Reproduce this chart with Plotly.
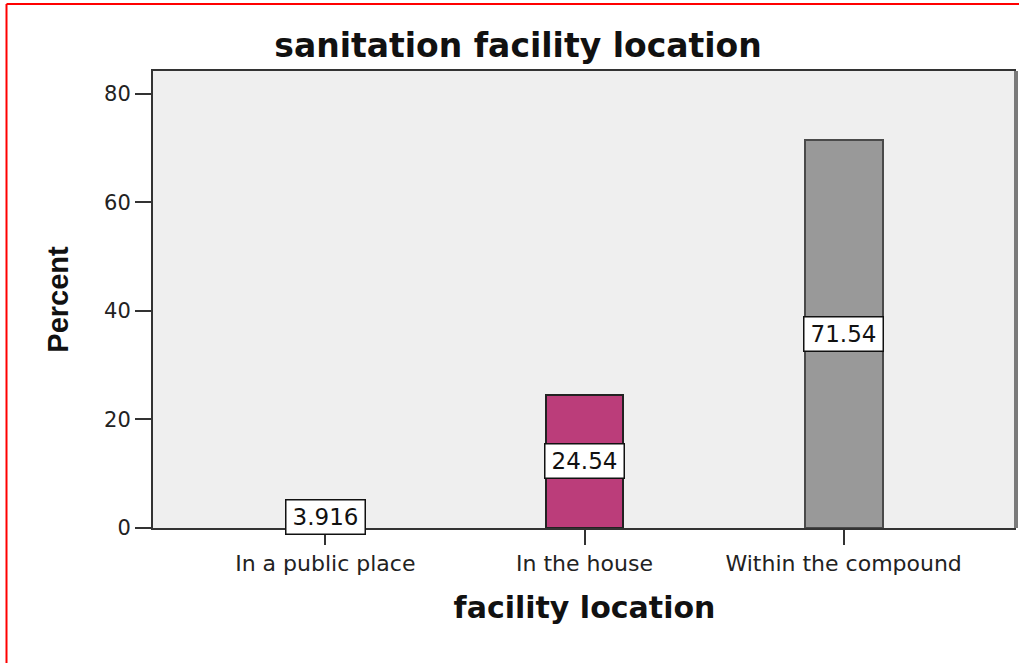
import plotly.graph_objects as go

categories = ["In a public place", "In the house", "Within the compound"]
percent = [3.916, 24.54, 71.54]
value_labels = ["3.916", "24.54", "71.54"]
bar_colors = ["#ffffff", "#bb3d7a", "#999999"]
bar_edges = ["#222222", "#222222", "#4a4a4a"]
y_ticks = [0, 20, 40, 60, 80]

W, H = 1019, 663
L, R, T, B = 153, 3, 71, 135
pw, ph = W - L - R, H - T - B

fig = go.Figure()
fig.add_trace(go.Bar(
    x=categories, y=percent, width=0.3,
    marker=dict(color=bar_colors, line=dict(color=bar_edges, width=2)),
    hoverinfo="x+y", showlegend=False,
))

for c, v, t in zip(categories, percent, value_labels):
    fig.add_annotation(
        x=c, y=v / 2, text=t, showarrow=False,
        font=dict(family="DejaVu Sans", size=23, color="#111111"),
        width=74, height=29,
        bgcolor="white", bordercolor="#111111", borderwidth=1.5, borderpad=2,
    )

def px_x(x):
    return (x - L) / pw

def px_y(y):
    return (H - B - y) / ph

shapes = [
    dict(type="line", xref="paper", yref="paper", x0=1.0, x1=1.0, y0=0, y1=1,
         line=dict(color="#7a7a7a", width=4)),
    dict(type="line", xref="paper", yref="paper", x0=px_x(6.5), x1=px_x(1019), y0=px_y(4), y1=px_y(4),
         line=dict(color="#ff0000", width=2)),
    dict(type="line", xref="paper", yref="paper", x0=px_x(6.5), x1=px_x(6.5), y0=px_y(4), y1=px_y(663),
         line=dict(color="#ff0000", width=2)),
]

fig.update_layout(
    width=W, height=H,
    margin=dict(l=L, r=R, t=T, b=B, autoexpand=False),
    paper_bgcolor="white", plot_bgcolor="#efefef",
    title=dict(text="<b>sanitation facility location</b>", x=518 / W, xref="container", xanchor="center",
               y=1 - 45 / H, yref="container", yanchor="middle",
               font=dict(family="DejaVu Sans", size=33, color="#111111")),
    shapes=shapes,
    bargap=0,
)

fig.update_xaxes(
    type="category", range=[-0.665, 2.665],
    showline=True, linecolor="#333333", linewidth=2, mirror=True,
    ticks="outside", ticklen=15, tickwidth=2, tickcolor="#333333",
    tickfont=dict(family="DejaVu Sans", size=22, color="#222222"),
    showgrid=False, zeroline=False,
    title=dict(text="<b>facility location</b>", standoff=22,
               font=dict(family="DejaVu Sans", size=30, color="#111111")),
)
fig.update_yaxes(
    range=[0, 84.2], tickvals=y_ticks,
    showline=True, linecolor="#333333", linewidth=2, mirror=False,
    ticks="outside", ticklen=16, tickwidth=2, tickcolor="#333333",
    tickfont=dict(family="DejaVu Sans", size=21, color="#222222"),
    showgrid=False, zeroline=False,
    title=dict(text="<b>Percent</b>", standoff=27,
               font=dict(family="Liberation Sans", size=29, color="#111111")),
)

fig.write_html("out.html", config={"displayModeBar": False},
               post_script="document.body.style.margin='0px';")
